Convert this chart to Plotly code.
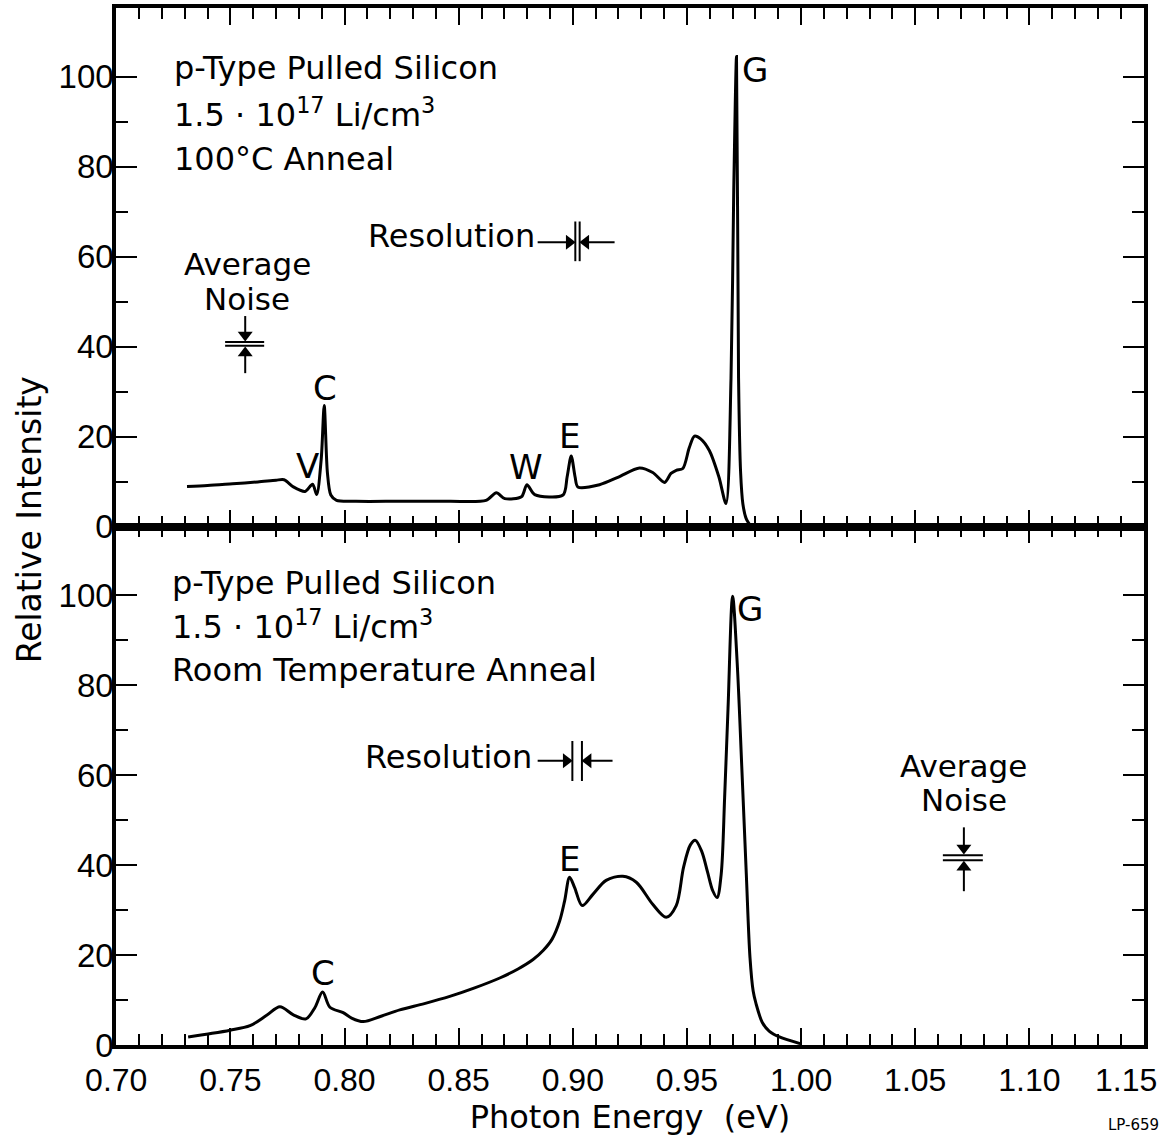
import plotly.graph_objects as go

# ---------------- data ----------------
energy_top = [0.731, 0.740, 0.751, 0.762, 0.770, 0.7735, 0.7776, 0.7827, 0.7860, 0.7878,
              0.7898, 0.7911, 0.7925, 0.7940, 0.7965, 0.805, 0.824, 0.846, 0.862, 0.8665,
              0.8702, 0.8775, 0.8799, 0.8833, 0.8957, 0.8975, 0.8993, 0.9010, 0.9022, 0.9117,
              0.920, 0.9292, 0.935, 0.9402, 0.9430, 0.9453, 0.9482, 0.9510, 0.9533, 0.9560,
              0.9598, 0.9640, 0.9671, 0.9693, 0.9705, 0.9717, 0.9726, 0.9735, 0.9745, 0.9759,
              0.9780]
intensity_top = [8.9, 9.1, 9.5, 9.9, 10.3, 10.4, 8.8, 7.8, 9.4, 7.1,
                 15.0, 26.9, 12.0, 7.0, 5.8, 5.6, 5.6, 5.6, 5.8, 7.5,
                 6.2, 6.6, 9.3, 7.1, 7.0, 11.0, 15.7, 11.0, 8.8, 9.3,
                 11.0, 13.0, 12.0, 9.8, 11.8, 12.5, 12.9, 17.5, 20.1, 19.5,
                 16.9, 11.0, 5.1, 33.0, 75.0, 104.5, 33.0, 12.0, 5.0, 1.8,
                 0.0]

energy_bottom = [0.7315, 0.7420, 0.7499, 0.7586, 0.7659, 0.7717, 0.7776, 0.7831, 0.7870, 0.7904,
                 0.7936, 0.7994, 0.8031, 0.8082, 0.8160, 0.8242, 0.8350, 0.8461, 0.8570, 0.8680,
                 0.8760, 0.8826, 0.8870, 0.8910, 0.8942, 0.8964, 0.8986, 0.9008, 0.9041, 0.9088,
                 0.9146, 0.9219, 0.9278, 0.9350, 0.9409, 0.9453, 0.9485, 0.9515, 0.9537, 0.9565,
                 0.9590, 0.9613, 0.9632, 0.9650, 0.9665, 0.9680, 0.9700, 0.9720, 0.9740, 0.9760,
                 0.9776, 0.9790, 0.9802, 0.9830, 0.9860, 0.9905, 0.9996]
intensity_bottom = [1.8, 2.6, 3.3, 4.3, 6.6, 8.5, 6.7, 5.8, 8.3, 11.8,
                    8.4, 7.2, 6.0, 5.2, 6.4, 7.8, 9.2, 10.8, 12.7, 14.9,
                    16.9, 19.0, 21.0, 23.6, 27.5, 32.0, 37.3, 35.0, 31.0, 33.5,
                    36.6, 37.5, 36.2, 31.3, 28.4, 31.0, 39.5, 44.5, 45.5, 43.0,
                    38.5, 34.3, 32.8, 38.0, 55.0, 75.0, 99.8, 85.0, 62.0, 38.0,
                    19.5, 12.0, 9.3, 5.0, 3.1, 1.8, 0.3]

x_ticks = [0.70, 0.75, 0.80, 0.85, 0.90, 0.95, 1.00, 1.05, 1.10, 1.15]
x_tick_labels = ["0.70", "0.75", "0.80", "0.85", "0.90", "0.95", "1.00", "1.05", "1.10", "1.15"]
y_ticks = [0, 20, 40, 60, 80, 100]
y_tick_labels = ["0", "20", "40", "60", "80", "100"]
y_minor_ticks = [10, 30, 50, 70, 90]

panel_text_top = ["p-Type Pulled Silicon", "1.5 · 10<sup>17</sup> Li/cm<sup>3</sup>", "100°C Anneal"]
panel_text_bottom = ["p-Type Pulled Silicon", "1.5 · 10<sup>17</sup> Li/cm<sup>3</sup>", "Room Temperature Anneal"]
peak_labels_top = ["V", "C", "W", "E", "G"]
peak_label_x_top = [0.7836, 0.7914, 0.8794, 0.8986, 0.9800]
peak_label_y_top = [13.5, 30.8, 13.3, 20.2, 101.5]
peak_labels_bottom = ["C", "E", "G"]
peak_label_x_bottom = [0.7906, 0.8986, 0.9778]
peak_label_y_bottom = [16.1, 41.3, 96.9]

# ---------------- styling ----------------
TXT = "DejaVu Sans"
NUM = "Liberation Sans"
BLACK = "black"

fig = go.Figure()
fig.add_trace(go.Scatter(x=energy_top, y=intensity_top, xaxis="x2", yaxis="y2", mode="lines",
                         line=dict(color=BLACK, width=3, shape="spline", smoothing=0.8),
                         showlegend=False, hoverinfo="skip"))
fig.add_trace(go.Scatter(x=energy_bottom, y=intensity_bottom, xaxis="x", yaxis="y", mode="lines",
                         line=dict(color=BLACK, width=3, shape="spline", smoothing=0.9),
                         showlegend=False, hoverinfo="skip"))

# the last x label sits left of its tick in the reference (page edge), so it is
# written as a separate text next to the axis instead of a centred tick label
x_axis_text = x_tick_labels[:-1] + [""]

xax_common = dict(range=[0.6999, 1.1502], tickvals=x_ticks, ticktext=x_axis_text,
                  ticks="inside", ticklen=17, tickwidth=2, tickcolor=BLACK,
                  minor=dict(tick0=0.70, dtick=0.01, ticks="inside", ticklen=11, tickwidth=2, tickcolor=BLACK),
                  showline=True, linewidth=3.5, linecolor=BLACK, mirror="allticks",
                  showgrid=False, zeroline=False, fixedrange=True, automargin=False)
yax_common = dict(range=[0, 115.3], tickvals=y_ticks, ticktext=y_tick_labels,
                  ticks="inside", ticklen=21, tickwidth=2, tickcolor=BLACK,
                  minor=dict(tickvals=y_minor_ticks, ticks="inside", ticklen=12, tickwidth=2, tickcolor=BLACK),
                  showline=True, linewidth=3.5, linecolor=BLACK, mirror="allticks",
                  showgrid=False, zeroline=False, automargin=False,
                  tickfont=dict(family=NUM, size=33, color=BLACK), ticklabelstandoff=-8)

fig.update_layout(
    width=1171, height=1138,
    margin=dict(l=116, r=27, t=8, b=93, autoexpand=False),
    paper_bgcolor="white", plot_bgcolor="white",
    showlegend=False,
    xaxis=dict(**xax_common, anchor="y", domain=[0, 1],
               tickfont=dict(family=NUM, size=32, color=BLACK), ticklabelstandoff=4,
               title=dict(text="Photon Energy\u00a0\u00a0(eV)", font=dict(family=TXT, size=32, color=BLACK), standoff=0)),
    yaxis=dict(**yax_common, anchor="x", domain=[0, 0.5]),
    xaxis2=dict(**xax_common, anchor="y2", domain=[0, 1], matches="x", showticklabels=False),
    yaxis2=dict(**yax_common, anchor="x2", domain=[0.5, 1]),
)

ann = []
shapes = []

# last x tick label (right-aligned to the plot edge like the reference)
ann.append(dict(x=1.0, y=-0.0337, xref="paper", yref="paper", text=x_tick_labels[-1], showarrow=False,
                xanchor="right", yanchor="middle", xshift=14, borderpad=0,
                font=dict(family=NUM, size=32, color=BLACK)))

# panel text blocks
for txt, yv in zip(panel_text_top, [102.0, 92.0, 81.8]):
    ann.append(dict(x=0.7245, y=yv, xref="x2", yref="y2", text=txt, showarrow=False,
                    xanchor="left", yanchor="middle", font=dict(family=TXT, size=32, color=BLACK)))
for txt, yv in zip(panel_text_bottom, [102.8, 93.3, 83.3]):
    ann.append(dict(x=0.7236, y=yv, xref="x", yref="y", text=txt, showarrow=False,
                    xanchor="left", yanchor="middle", font=dict(family=TXT, size=32, color=BLACK)))

# peak labels
for t, xv, yv in zip(peak_labels_top, peak_label_x_top, peak_label_y_top):
    ann.append(dict(x=xv, y=yv, xref="x2", yref="y2", text=t, showarrow=False,
                    xanchor="center", yanchor="middle", font=dict(family=TXT, size=34, color=BLACK)))
for t, xv, yv in zip(peak_labels_bottom, peak_label_x_bottom, peak_label_y_bottom):
    ann.append(dict(x=xv, y=yv, xref="x", yref="y", text=t, showarrow=False,
                    xanchor="center", yanchor="middle", font=dict(family=TXT, size=34, color=BLACK)))


def seg(xr, yr, x0, y0, x1, y1):
    return dict(type="line", xref=xr, yref=yr, x0=x0, x1=x1, y0=y0, y1=y1,
                line=dict(color=BLACK, width=2))


# arrow heads: (panel, x, y, symbol)
heads = []

# --- top panel: Average Noise marker
ann.append(dict(x=0.7573, y=58.3, xref="x2", yref="y2", text="Average", showarrow=False, borderpad=0,
                font=dict(family=TXT, size=31, color=BLACK)))
ann.append(dict(x=0.7573, y=50.6, xref="x2", yref="y2", text="Noise", showarrow=False, borderpad=0,
                font=dict(family=TXT, size=31, color=BLACK)))
shapes.append(seg("x2", "y2", 0.7477, 41.0, 0.7648, 41.0))
shapes.append(seg("x2", "y2", 0.7477, 40.2, 0.7648, 40.2))
shapes.append(seg("x2", "y2", 0.7565, 46.8, 0.7565, 42.6))
shapes.append(seg("x2", "y2", 0.7565, 34.1, 0.7565, 38.6))
heads += [("top", 0.7565, 42.6, "triangle-down"), ("top", 0.7565, 38.6, "triangle-up")]

# --- top panel: Resolution marker
ann.append(dict(x=0.8842, y=64.5, xref="x2", yref="y2", text="Resolution", showarrow=False,
                xanchor="right", font=dict(family=TXT, size=32, color=BLACK)))
shapes.append(seg("x2", "y2", 0.9011, 59.0, 0.9011, 67.8))
shapes.append(seg("x2", "y2", 0.9030, 59.0, 0.9030, 67.8))
shapes.append(seg("x2", "y2", 0.8846, 63.2, 0.8984, 63.2))
shapes.append(seg("x2", "y2", 0.9057, 63.2, 0.9183, 63.2))
heads += [("top", 0.8984, 63.2, "triangle-right"), ("top", 0.9057, 63.2, "triangle-left")]

# --- bottom panel: Resolution marker
ann.append(dict(x=0.8830, y=64.1, xref="x", yref="y", text="Resolution", showarrow=False,
                xanchor="right", font=dict(family=TXT, size=32, color=BLACK)))
shapes.append(seg("x", "y", 0.8998, 58.7, 0.8998, 67.6))
shapes.append(seg("x", "y", 0.9040, 58.7, 0.9040, 67.6))
shapes.append(seg("x", "y", 0.8846, 63.2, 0.8971, 63.2))
shapes.append(seg("x", "y", 0.9067, 63.2, 0.9174, 63.2))
heads += [("bottom", 0.8971, 63.2, "triangle-right"), ("bottom", 0.9067, 63.2, "triangle-left")]

# --- bottom panel: Average Noise marker
ann.append(dict(x=1.0713, y=62.0, xref="x", yref="y", text="Average", showarrow=False, borderpad=0,
                font=dict(family=TXT, size=31, color=BLACK)))
ann.append(dict(x=1.0713, y=54.4, xref="x", yref="y", text="Noise", showarrow=False, borderpad=0,
                font=dict(family=TXT, size=31, color=BLACK)))
shapes.append(seg("x", "y", 1.0621, 42.2, 1.0796, 42.2))
shapes.append(seg("x", "y", 1.0621, 41.1, 1.0796, 41.1))
shapes.append(seg("x", "y", 1.0713, 48.4, 1.0713, 43.8))
shapes.append(seg("x", "y", 1.0713, 34.2, 1.0713, 39.5))
heads += [("bottom", 1.0713, 43.8, "triangle-down"), ("bottom", 1.0713, 39.5, "triangle-up")]

for panel in ["top", "bottom"]:
    hs = [h for h in heads if h[0] == panel]
    fig.add_trace(go.Scatter(
        x=[h[1] for h in hs], y=[h[2] for h in hs],
        xaxis="x2" if panel == "top" else "x", yaxis="y2" if panel == "top" else "y",
        mode="markers", marker=dict(symbol=[h[3] for h in hs], size=13, color=BLACK, line=dict(width=0)),
        showlegend=False, hoverinfo="skip"))

# y-axis title spanning both panels
ann.append(dict(x=-0.0846, y=0.506, xref="paper", yref="paper", text="Relative Intensity",
                textangle=-90, showarrow=False, xanchor="center", yanchor="middle",
                font=dict(family=TXT, size=33, color=BLACK)))
# figure id
ann.append(dict(x=0.990, y=-0.077, xref="paper", yref="paper", text="LP-659", showarrow=False,
                xanchor="center", yanchor="middle", font=dict(family=TXT, size=15, color=BLACK)))

fig.update_layout(annotations=ann, shapes=shapes)
fig.write_html("out.html")
